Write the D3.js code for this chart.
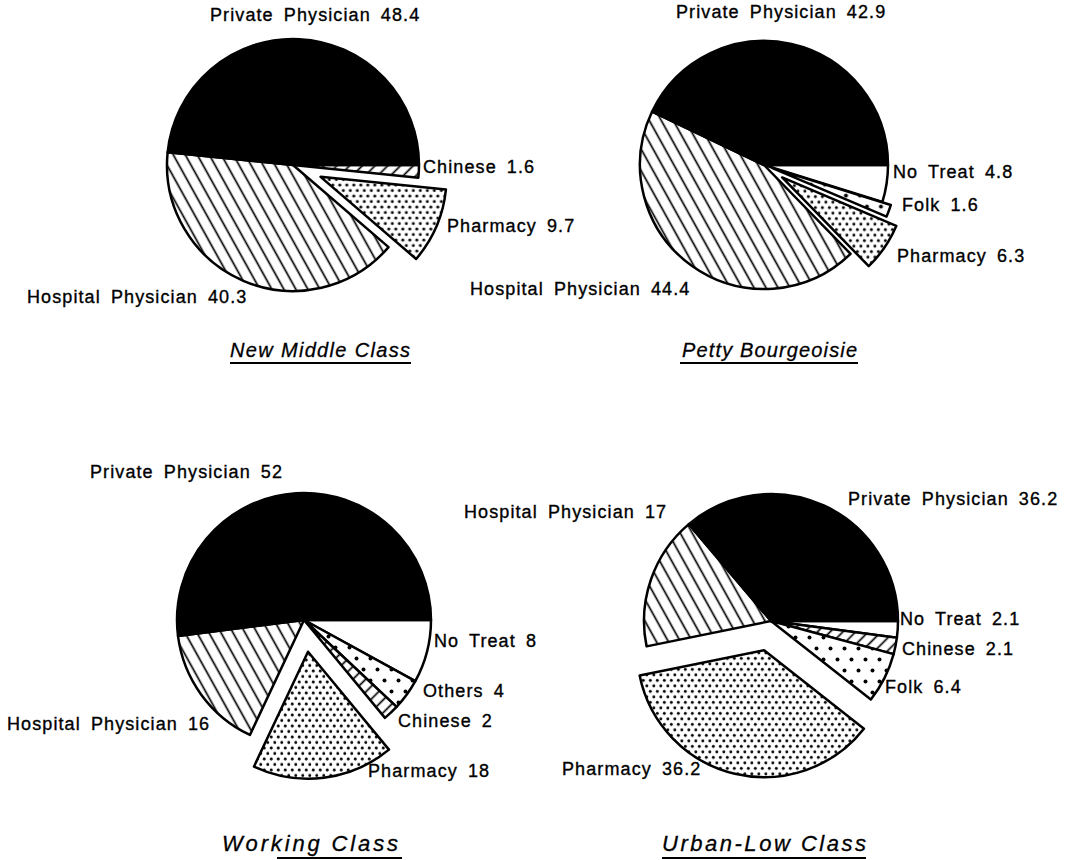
<!DOCTYPE html>
<html><head><meta charset="utf-8">
<script src="https://cdn.jsdelivr.net/npm/d3@7"></script>
<style>
body{margin:0;background:#fff;}
svg{display:block;}
text{font-family:"Liberation Sans",Arial,Helvetica,sans-serif;fill:#000;}
</style>
</head><body>
<svg id="chart" width="1071" height="860"></svg>
<script>
// ---- data ----
const pieTitles = ["New Middle Class", "Petty Bourgeoisie", "Working Class", "Urban-Low Class"];
const nmcLabels = ["Chinese", "Pharmacy", "Hospital Physician", "Private Physician"];
const nmcValues = [1.6, 9.7, 40.3, 48.4];
const pbLabels = ["No Treat", "Folk", "Pharmacy", "Hospital Physician", "Private Physician"];
const pbValues = [4.8, 1.6, 6.3, 44.4, 42.9];
const wcLabels = ["No Treat", "Others", "Chinese", "Pharmacy", "Hospital Physician", "Private Physician"];
const wcValues = [8, 4, 2, 18, 16, 52];
const ulLabels = ["No Treat", "Chinese", "Folk", "Pharmacy", "Hospital Physician", "Private Physician"];
const ulValues = [2.1, 2.1, 6.4, 36.2, 17, 36.2];

const pieData = [
  {labels: nmcLabels, values: nmcValues},
  {labels: pbLabels, values: pbValues},
  {labels: wcLabels, values: wcValues},
  {labels: ulLabels, values: ulValues}
];

// ---- layout / style ----
const fills = {
  "Private Physician": "#000",
  "Hospital Physician": "url(#hatchHosp)",
  "Pharmacy": "url(#dotsDense)",
  "Chinese": "url(#hatchChn)",
  "Folk": "url(#dotsSparse)",
  "Others": "url(#dotsSparse)",
  "No Treat": "#fff"
};

const layout = [
  {cx: 293, cy: 165, r: 126, explode: {"Pharmacy": 30},
   title: {x: 230, y: 357, w: 180, size: 20, ul: [230, 411, 363]},
   labels: {"Private Physician": [210, 21], "Chinese": [423, 173], "Pharmacy": [447, 232], "Hospital Physician": [27, 303]}},
  {cx: 764, cy: 165, r: 124, explode: {"Folk": 9, "Pharmacy": 22},
   title: {x: 682, y: 357, w: 175, size: 20, ul: [680, 858, 363]},
   labels: {"Private Physician": [676, 18], "No Treat": [893, 178], "Folk": [902, 211], "Pharmacy": [897, 262], "Hospital Physician": [470, 295]}},
  {cx: 304, cy: 620, r: 127, explode: {"Pharmacy": 32},
   title: {x: 222, y: 851, w: 176, size: 22, ul: [277, 402, 858]},
   labels: {"Private Physician": [90, 478], "No Treat": [434, 647], "Others": [423, 697], "Chinese": [398, 727], "Pharmacy": [368, 777], "Hospital Physician": [7, 730]}},
  {cx: 771, cy: 621, r: 127, explode: {"Pharmacy": 30},
   title: {x: 662, y: 851, w: 204, size: 22, ul: [662, 866, 858]},
   labels: {"Private Physician": [848, 505], "No Treat": [900, 625], "Chinese": [902, 655], "Folk": [885, 693], "Pharmacy": [562, 775], "Hospital Physician": [464, 518]}}
];

const svg = d3.select("#chart");
const defs = svg.append("defs");

function linePattern(id, angle, spacing, width) {
  const p = defs.append("pattern").attr("id", id)
    .attr("patternUnits", "userSpaceOnUse")
    .attr("width", spacing).attr("height", spacing)
    .attr("patternTransform", `rotate(${angle})`);
  p.append("rect").attr("width", spacing).attr("height", spacing).attr("fill", "#fff");
  p.append("line").attr("x1", spacing / 2).attr("x2", spacing / 2)
    .attr("y1", -1).attr("y2", spacing + 1)
    .attr("stroke", "#000").attr("stroke-width", width);
}
function dotPattern(id, w, h, rad) {
  const p = defs.append("pattern").attr("id", id)
    .attr("patternUnits", "userSpaceOnUse")
    .attr("width", w).attr("height", h);
  p.append("rect").attr("width", w).attr("height", h).attr("fill", "#fff");
  p.append("circle").attr("cx", w / 4).attr("cy", h / 4).attr("r", rad).attr("fill", "#000");
  p.append("circle").attr("cx", 3 * w / 4).attr("cy", 3 * h / 4).attr("r", rad).attr("fill", "#000");
}
linePattern("hatchHosp", -29, 10.5, 1.7);
linePattern("hatchChn", 45, 9, 1.7);
dotPattern("dotsDense", 7, 11, 1.45);
dotPattern("dotsSparse", 14, 22, 2.0);

const pie = d3.pie().sort(null).value(d => d.value)
  .startAngle(Math.PI / 2).endAngle(Math.PI / 2 + 2 * Math.PI);

pieData.forEach((pd, i) => {
  const L = layout[i];
  const items = pd.labels.map((lab, j) => ({label: lab, value: pd.values[j]}));
  const arcs = pie(items);
  const arc = d3.arc().innerRadius(0).outerRadius(L.r);
  const g = svg.append("g").attr("transform", `translate(${L.cx},${L.cy})`);
  g.selectAll("path").data(arcs).join("path")
    .attr("d", arc)
    .attr("transform", d => {
      const off = L.explode[d.data.label] || 0;
      const mid = (d.startAngle + d.endAngle) / 2;
      return `translate(${Math.sin(mid) * off},${-Math.cos(mid) * off})`;
    })
    .attr("fill", d => fills[d.data.label])
    .attr("stroke", "#000").attr("stroke-width", 2.5)
    .attr("stroke-linejoin", "round");

  // labels
  arcs.forEach(d => {
    const pos = L.labels[d.data.label];
    svg.append("text")
      .attr("x", pos[0]).attr("y", pos[1])
      .attr("font-size", 18)
      .attr("letter-spacing", 1.1)
      .attr("word-spacing", 4)
      .attr("stroke", "#000").attr("stroke-width", 0.35)
      .text(`${d.data.label} ${d.data.value}`);
  });

  // title
  svg.append("text")
    .attr("x", L.title.x).attr("y", L.title.y)
    .attr("font-size", L.title.size).attr("font-style", "italic")
    .attr("textLength", L.title.w).attr("lengthAdjust", "spacing")
    .attr("stroke", "#000").attr("stroke-width", 0.3)
    .text(pieTitles[i]);
  svg.append("line")
    .attr("x1", L.title.ul[0]).attr("x2", L.title.ul[1])
    .attr("y1", L.title.ul[2]).attr("y2", L.title.ul[2])
    .attr("stroke", "#000").attr("stroke-width", 1.8);
});
</script>
</body></html>
